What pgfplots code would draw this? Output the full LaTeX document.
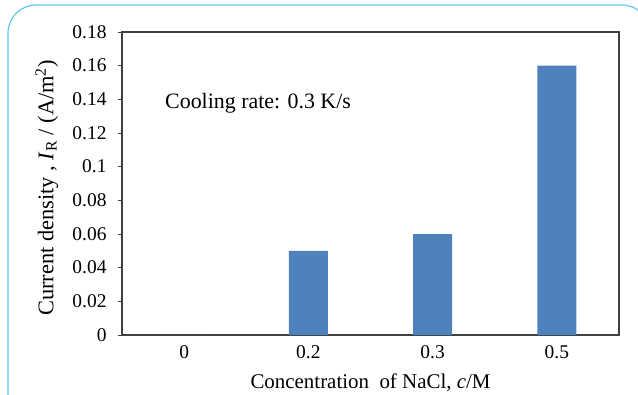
\documentclass[border=0pt]{standalone}
\usepackage{pgfplots}
\pgfplotsset{compat=1.18}
\usepackage{fontspec}
\setmainfont{Liberation Serif}
\definecolor{barblue}{HTML}{4F81BD}
\definecolor{framecyan}{HTML}{5CC8EA}
\definecolor{axisgray}{HTML}{404040}
\begin{document}
\begin{tikzpicture}[x=1bp,y=1bp]
\useasboundingbox (0,0) rectangle (638,394);
\clip (0,0) rectangle (638,394);
% rounded panel frame
\draw[framecyan, line width=1.2bp, rounded corners=28bp] (8,389) rectangle (650,-40);
\begin{axis}[
  at={(122bp,59bp)}, anchor=south west,
  scale only axis, width=497bp, height=303bp,
  xmin=-0.5, xmax=3.5, ymin=0, ymax=0.18,
  xtick={0,1,2,3}, xticklabels={0,0.2,0.3,0.5},
  ytick={0,0.02,...,0.18},
  yticklabels={0,0.02,0.04,0.06,0.08,0.1,0.12,0.14,0.16,0.18},
  major x tick style={draw=none},
  ytick pos=left, tick align=outside,
  major tick length=4bp,
  tick style={axisgray, line width=0.6bp},
  axis line style={axisgray, line width=1.2bp},
  ticklabel style={font=\fontsize{19.5}{22}\selectfont},
  yticklabel style={xshift=-8bp},
  xticklabel style={yshift=-3bp},
  xlabel={Concentration\ \ of NaCl, \textit{c}/M},
  ylabel={Current density , \textit{I}\textsubscript{R} / (A/m\textsuperscript{2})},
  xlabel style={at={(axis description cs:0.5,-0.158)}, anchor=center,
    font=\fontsize{21}{24}\selectfont},
  ylabel style={at={(axis description cs:-0.151,0.485)}, anchor=center,
    font=\fontsize{22.5}{25}\selectfont},
  /pgf/number format/assume math mode=true,
]
\addplot[ybar, bar width=39bp, fill=barblue, draw=none] coordinates {
  (0,0) (1,0.05) (2,0.06) (3,0.16)
};
\node[anchor=west, inner sep=0pt, font=\fontsize{22}{25}\selectfont] at (axis cs:-0.154,0.1378) {Cooling rate: 0.3 K/s};
\end{axis}
\end{tikzpicture}
\end{document}
